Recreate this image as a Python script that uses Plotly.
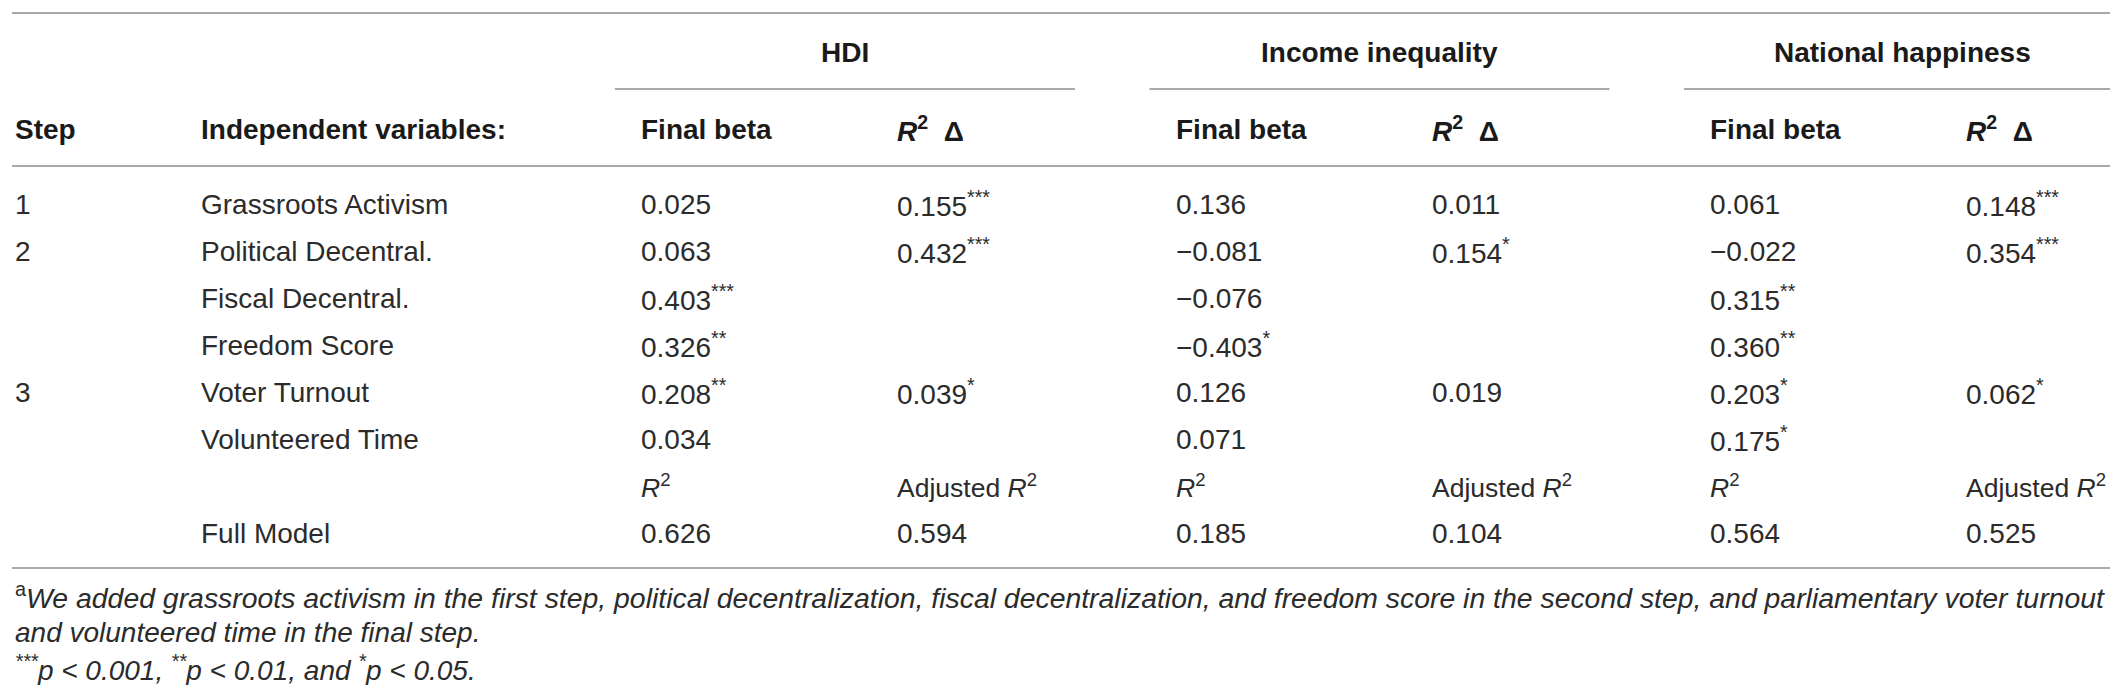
import plotly.graph_objects as go

# ---------------- data ----------------
steps = ["1", "2", "", "", "3", "", "", ""]
variables = ["Grassroots Activism", "Political Decentral.", "Fiscal Decentral.",
             "Freedom Score", "Voter Turnout", "Volunteered Time", "", "Full Model"]
outcomes = ["HDI", "Income inequality", "National happiness"]
sub_headers = ["Final beta", "<i>R</i><sup>2</sup>  Δ"]

hdi_beta = ["0.025", "0.063", "0.403***", "0.326**", "0.208**", "0.034"]
hdi_r2d = ["0.155***", "0.432***", "", "", "0.039*", ""]
inc_beta = ["0.136", "−0.081", "−0.076", "−0.403*", "0.126", "0.071"]
inc_r2d = ["0.011", "0.154*", "", "", "0.019", ""]
hap_beta = ["0.061", "−0.022", "0.315**", "0.360**", "0.203*", "0.175*"]
hap_r2d = ["0.148***", "0.354***", "", "", "0.062*", ""]

fit_labels = ["<i>R</i><sup>2</sup>", "Adjusted <i>R</i><sup>2</sup>"]
full_r2 = ["0.626", "0.185", "0.564"]
full_adj_r2 = ["0.594", "0.104", "0.525"]

footnotes = [
    "<sup>a</sup><i>We added grassroots activism in the first step, political decentralization, "
    "fiscal decentralization, and freedom score in the second step, and parliamentary voter turnout</i>",
    "<i>and volunteered time in the final step.</i>",
    "<i><sup>***</sup>p < 0.001, <sup>**</sup>p < 0.01, and <sup>*</sup>p < 0.05.</i>",
]

# ---------------- layout constants ----------------
W, H = 2118, 685
FONT = "Liberation Sans, Arial, Helvetica, sans-serif"
FS = 28
FS_FIT = 26.5
FS_FOOT = 28.4
TXT = "#2b2b2b"
BOLD = "#1a1a1a"
LINE = "#8c8c8c"

X_STEP, X_VAR = 6, 192
X_GROUP0, GROUP_DX, COL_DX = 632, 534.5, 256
LINE_L, LINE_R = 4, 2113
PART_PAD_L, PART_W = 25, 460
Y_TOP, Y_GROUP, Y_PART, Y_HEAD, Y_HLINE = 5, 44, 81, 121, 158
Y_ROW0, ROW_DY = 196, 47
Y_BOTTOM, Y_FOOT0, FOOT_DY = 560, 588, 36


def fmt(v):
    base = v.rstrip("*")
    stars = v[len(base):]
    return base + (f"<sup>{stars}</sup>" if stars else "")


fig = go.Figure()
ann = []


def add(x, y, text, bold=False, size=FS, xanchor="left"):
    ann.append(dict(x=x, y=y, xref="x", yref="y", text=(f"<b>{text}</b>" if bold else text),
                    showarrow=False, xanchor=xanchor, yanchor="middle", borderpad=0,
                    font=dict(family=FONT, size=size, color=BOLD if bold else TXT)))


shapes = []


def hline(x0, x1, y):
    shapes.append(dict(type="line", xref="x", yref="y", x0=x0, x1=x1, y0=y, y1=y,
                       line=dict(color=LINE, width=1.6)))


# rules
hline(LINE_L, LINE_R, Y_TOP)
hline(LINE_L, LINE_R, Y_HLINE)
hline(LINE_L, LINE_R, Y_BOTTOM)

# group headers
for g, name in enumerate(outcomes):
    gx = X_GROUP0 + g * GROUP_DX
    x0 = gx - PART_PAD_L
    x1 = min(x0 + PART_W, LINE_R)
    hline(x0, x1, Y_PART)
    add((x0 + x1) / 2, Y_GROUP, name, bold=True, xanchor="center")
    for c, sh in enumerate(sub_headers):
        add(gx + c * COL_DX, Y_HEAD, sh, bold=True)

add(X_STEP, Y_HEAD, "Step", bold=True)
add(X_VAR, Y_HEAD, "Independent variables:", bold=True)

# body
for i, (s, v) in enumerate(zip(steps, variables)):
    y = Y_ROW0 + i * ROW_DY
    if s:
        add(X_STEP, y, s)
    if v:
        add(X_VAR, y, v)

groups = [(hdi_beta, hdi_r2d), (inc_beta, inc_r2d), (hap_beta, hap_r2d)]
for g, (beta, r2d) in enumerate(groups):
    gx = X_GROUP0 + g * GROUP_DX
    for i, (b, d) in enumerate(zip(beta, r2d)):
        y = Y_ROW0 + i * ROW_DY
        if b:
            add(gx, y, fmt(b))
        if d:
            add(gx + COL_DX, y, fmt(d))
    y_lab = Y_ROW0 + len(beta) * ROW_DY
    add(gx, y_lab, fit_labels[0], size=FS_FIT)
    add(gx + COL_DX, y_lab, fit_labels[1], size=FS_FIT)
    add(gx, y_lab + ROW_DY, full_r2[g])
    add(gx + COL_DX, y_lab + ROW_DY, full_adj_r2[g])

# footnotes
for k, t in enumerate(footnotes):
    add(X_STEP, Y_FOOT0 + k * FOOT_DY, t, size=FS_FOOT if k == 0 else FS)

fig.update_layout(
    width=W, height=H,
    margin=dict(l=0, r=0, t=0, b=0),
    paper_bgcolor="white", plot_bgcolor="white",
    xaxis=dict(range=[0, W], visible=False, fixedrange=True),
    yaxis=dict(range=[H, 0], visible=False, fixedrange=True),
    annotations=ann, shapes=shapes, showlegend=False,
)

fig.write_html("out.html")
